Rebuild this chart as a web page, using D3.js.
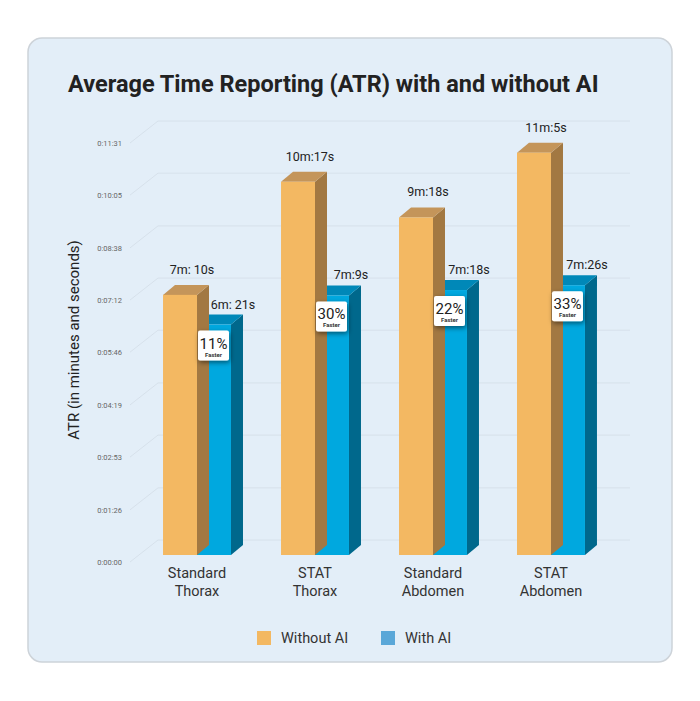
<!DOCTYPE html>
<html>
<head>
<meta charset="utf-8">
<script src="https://cdn.jsdelivr.net/npm/d3@7"></script>
<style>
  body { margin: 0; background: #fff; font-family: Roboto, "Noto Sans", sans-serif; }
</style>
</head>
<body>
<script>
// data (seconds)
const categories = [["Standard", "Thorax"], ["STAT", "Thorax"], ["Standard", "Abdomen"], ["STAT", "Abdomen"]];
const withoutAI = [430, 617, 558, 665];
const withAI = [381, 429, 438, 446];
const withoutLabels = ["7m: 10s", "10m:17s", "9m:18s", "11m:5s"];
const withLabels = ["6m: 21s", "7m:9s", "7m:18s", "7m:26s"];
const fasterPct = ["11%", "30%", "22%", "33%"];
const tickValues = [0, 86, 173, 259, 346, 432, 518, 605, 691];
const tickLabels = ["0:00:00", "0:01:26", "0:02:53", "0:04:19", "0:05:46", "0:07:12", "0:08:38", "0:10:05", "0:11:31"];

const svg = d3.select("body").append("svg").attr("width", 700).attr("height", 701);

svg.append("rect").attr("x", 28).attr("y", 38).attr("width", 644).attr("height", 624)
  .attr("rx", 14).attr("fill", "#e3eef8").attr("stroke", "#cdd3d9").attr("stroke-width", 1.5);

svg.append("text").attr("x", 68).attr("y", 92).text("Average Time Reporting (ATR) with and without AI")
  .attr("font-size", 23.5).attr("font-weight", "bold").attr("fill", "#222");

const depthX = 12, depthY = 10;
const y = d3.scaleLinear().domain([0, 691]).range([555, 137]);
const yLab = d3.scaleLinear().domain([0, 691]).range([562, 143]);
const x = d3.scaleBand().domain(d3.range(4)).range([113, 635]).padding(0.424);

// grid
const grid = svg.append("g");
tickValues.forEach((t, i) => {
  const gy = yLab(t);
  grid.append("line").attr("x1", 130).attr("y1", gy).attr("x2", 158).attr("y2", gy - 22)
    .attr("stroke", "#d3dde7").attr("stroke-width", 0.8);
  grid.append("line").attr("x1", 158).attr("y1", gy - 22).attr("x2", 630).attr("y2", gy - 22)
    .attr("stroke", "#d3dde7").attr("stroke-width", 0.8);
  grid.append("text").attr("x", 122).attr("y", gy + 3).attr("text-anchor", "end")
    .attr("font-size", 7.5).attr("fill", "#666").text(tickLabels[i]);
});

svg.append("text").attr("transform", "translate(79,340) rotate(-90)").attr("text-anchor", "middle")
  .attr("font-size", 15).attr("fill", "#222").text("ATR (in minutes and seconds)");

const defs = svg.append("defs");
const f = defs.append("filter").attr("id", "sh").attr("x", "-50%").attr("y", "-50%").attr("width", "200%").attr("height", "200%");
f.append("feDropShadow").attr("dx", 1).attr("dy", 2).attr("stdDeviation", 2.5).attr("flood-color", "#000").attr("flood-opacity", 0.5);

function bar3d(x0, w, v, front, top, side) {
  const yt = y(v), yb = y(0);
  svg.append("polygon").attr("points", [[x0 + w, yt], [x0 + w + depthX, yt - depthY], [x0 + w + depthX, yb - depthY], [x0 + w, yb]].join(" ")).attr("fill", side);
  svg.append("polygon").attr("points", [[x0, yt], [x0 + depthX, yt - depthY], [x0 + w + depthX, yt - depthY], [x0 + w, yt]].join(" ")).attr("fill", top);
  svg.append("rect").attr("x", x0).attr("y", yt).attr("width", w).attr("height", yb - yt).attr("fill", front);
}

const bw = x.bandwidth() / 2;
categories.forEach((c, i) => {
  const x0 = x(i);
  bar3d(x0 + bw, bw, withAI[i], "#00a8df", "#0088b8", "#00688c");
  bar3d(x0, bw, withoutAI[i], "#f3b862", "#c4955a", "#a27842");
  svg.append("text").attr("x", x0 + bw / 2 + 12).attr("y", y(withoutAI[i]) - 21).attr("text-anchor", "middle")
    .attr("font-size", 12.5).attr("fill", "#222").text(withoutLabels[i]);
  svg.append("text").attr("x", x0 + bw * 1.5 + 19).attr("y", y(withAI[i]) - 16).attr("text-anchor", "middle")
    .attr("font-size", 12.5).attr("fill", "#222").text(withLabels[i]);
  // percent box
  const bx = x0 + bw + 1, by = y(withAI[i]) + 6;
  svg.append("rect").attr("x", bx).attr("y", by).attr("width", 31).attr("height", 30).attr("rx", 2)
    .attr("fill", "#fff").attr("filter", "url(#sh)");
  svg.append("text").attr("x", bx + 15.5).attr("y", by + 18).attr("text-anchor", "middle")
    .attr("font-size", 15).attr("fill", "#222").text(fasterPct[i]);
  svg.append("text").attr("x", bx + 15.5).attr("y", by + 26).attr("text-anchor", "middle")
    .attr("font-size", 6).attr("font-weight", "bold").attr("fill", "#333").text("Faster");
  // category label
  c.forEach((line, j) => {
    svg.append("text").attr("x", x0 + bw).attr("y", 578 + j * 18).attr("text-anchor", "middle")
      .attr("font-size", 14.5).attr("fill", "#333").text(line);
  });
});

// legend
const legend = [["Without AI", "#f3b862", 257], ["With AI", "#5aa7d8", 381]];
legend.forEach(l => {
  svg.append("rect").attr("x", l[2]).attr("y", 631).attr("width", 14).attr("height", 14).attr("fill", l[1]);
  svg.append("text").attr("x", l[2] + 24).attr("y", 643).attr("font-size", 14.5).attr("fill", "#333").text(l[0]);
});
</script>
</body>
</html>
